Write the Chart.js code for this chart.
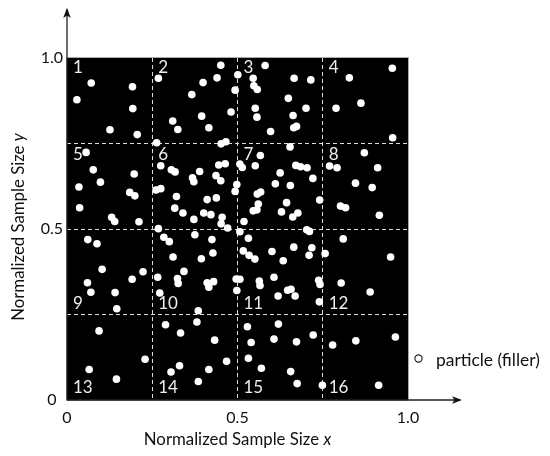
<!DOCTYPE html>
<html>
<head>
<meta charset="utf-8">
<style>html,body{margin:0;padding:0;background:#fff}canvas{display:block}</style>
<script src="https://cdn.jsdelivr.net/npm/chart.js@4"></script>
</head>
<body>
<canvas id="c" width="550" height="456"></canvas>
<script>
const particleX = [.071,.192,.029,.193,.126,.206,.268,.451,.440,.501,.399,.366,.493,.481,.395,.310,.325,.416,.263,.452,.466,.056,.077,.098,.035,.037,.197,.184,.199,.131,.140,.211,.275,.306,.317,.389,.368,.372,.445,.464,.437,.451,.498,.493,.261,.275,.321,.411,.438,.316,.340,.401,.422,.455,.452,.372,.471,.268,
.581,.546,.666,.715,.548,.558,.649,.552,.701,.557,.663,.597,.665,.673,.828,.954,.862,.789,.955,.654,.567,.507,.514,.552,.671,.685,.704,.625,.721,.611,.655,.558,.568,.644,.561,.546,.557,.629,.662,.677,.741,.519,.770,.792,.872,.911,.846,.895,.802,.817,.916,
.061,.088,.284,.300,.375,.425,.311,.394,.428,.103,.223,.191,.343,.266,.324,.326,.060,.070,.141,.411,.430,.416,.496,.498,.272,.146,.385,.381,.289,.094,.333,.433,.229,.468,.065,.330,.305,.416,.145,.385,
.507,.703,.711,.532,.810,.517,.534,.551,.601,.665,.718,.710,.757,.634,.949,.607,.507,.564,.566,.738,.742,.804,.647,.657,.889,.619,.669,.740,.529,.620,.722,.607,.540,.673,.779,.847,.963,.532,.570,.656,.675,.749,.914];
const particleY = [.927,.916,.878,.852,.790,.776,.941,.979,.942,.951,.928,.893,.906,.842,.830,.816,.791,.796,.752,.749,.755,.724,.673,.637,.623,.562,.661,.607,.597,.534,.522,.521,.685,.673,.667,.668,.650,.638,.687,.691,.656,.641,.630,.610,.614,.618,.595,.586,.591,.561,.547,.547,.542,.534,.515,.528,.503,.501,
.978,.941,.941,.936,.919,.908,.882,.853,.853,.827,.832,.785,.796,.800,.942,.970,.868,.853,.767,.740,.715,.690,.680,.685,.686,.682,.679,.664,.648,.632,.627,.602,.608,.577,.573,.553,.556,.550,.535,.547,.585,.522,.684,.679,.723,.679,.634,.621,.567,.562,.540,
.469,.457,.476,.463,.483,.469,.418,.413,.430,.382,.375,.353,.376,.359,.355,.341,.343,.315,.314,.343,.346,.330,.354,.320,.313,.267,.261,.228,.220,.202,.196,.175,.119,.113,.089,.100,.082,.089,.061,.054,
.492,.498,.493,.473,.471,.436,.423,.412,.434,.447,.445,.423,.428,.407,.418,.359,.353,.348,.335,.350,.338,.342,.321,.324,.316,.304,.304,.287,.214,.222,.190,.178,.168,.170,.161,.173,.184,.122,.093,.083,.048,.043,.043];
const tickLabels = {0:'0', 0.5:'0.5', 1:'1.0'};
const gridValues = [0.25, 0.5, 0.75];
const cellLabels = ['1','2','3','4','5','6','7','8','9','10','11','12','13','14','15','16'];
const axisTitle = 'Normalized Sample Size ';
const legendLabel = 'particle (filler)';
const FONT = 'Lato, sans-serif';

function mixedTitle(ctx, text, italic, size){
  ctx.font = size+'px '+FONT;
  const a = ctx.measureText(text).width;
  ctx.font = 'italic '+size+'px '+FONT;
  const b = ctx.measureText(italic).width;
  const s = -(a+b)/2;
  ctx.font = size+'px '+FONT;
  ctx.textAlign='left';ctx.textBaseline='middle';ctx.fillStyle='#111';
  ctx.fillText(text,s,0);
  ctx.font = 'italic '+size+'px '+FONT;
  ctx.fillText(italic,s+a,0);
}
function arrow(ctx,x,y,ang){
  ctx.save();ctx.translate(x,y);ctx.rotate(ang);
  ctx.beginPath();ctx.moveTo(0,0);ctx.lineTo(-10,-3.8);ctx.lineTo(-7.5,0);ctx.lineTo(-10,3.8);ctx.closePath();
  ctx.fillStyle='#111';ctx.fill();ctx.restore();
}
const decor = {
  id:'decor',
  beforeDraw(chart){
    const {ctx,chartArea:a}=chart;
    ctx.save();ctx.fillStyle='#000';
    ctx.fillRect(a.left,a.top,a.width,a.height);
    ctx.strokeStyle='#aaa';ctx.lineWidth=1;
    ctx.strokeRect(a.left-.5,a.top-.5,a.width+1,a.height+1);
    ctx.restore();
  },
  afterDraw(chart){
    const {ctx,chartArea:a,scales:{x,y}}=chart;
    ctx.save();
    ctx.strokeStyle='#222';ctx.lineWidth=1.3;
    ctx.beginPath();
    ctx.moveTo(a.left,a.bottom);ctx.lineTo(a.left,9);
    ctx.moveTo(a.left,a.bottom);ctx.lineTo(460,a.bottom);
    ctx.stroke();
    arrow(ctx,a.left,8,-Math.PI/2);
    arrow(ctx,462,a.bottom,0);
    // cell numbers
    ctx.font='17px '+FONT;ctx.fillStyle='#eee';ctx.textAlign='left';ctx.textBaseline='middle';
    const cols=[0,.25,.5,.75];
    const rowPy=[y.getPixelForValue(1)+10,y.getPixelForValue(.75)+11,y.getPixelForValue(.25)-11,y.getPixelForValue(0)-12];
    cellLabels.forEach((t,i)=>{
      const c=i%4,r=Math.floor(i/4);
      ctx.fillText(t,x.getPixelForValue(cols[c])+6,rowPy[r]);
    });
    // axis titles
    ctx.save();ctx.translate((a.left+a.right)/2,440);mixedTitle(ctx,axisTitle,'x',16.8);ctx.restore();
    ctx.save();ctx.translate(19,(a.top+a.bottom)/2-2);ctx.rotate(-Math.PI/2);mixedTitle(ctx,axisTitle,'y',16.8);ctx.restore();
    // legend
    ctx.beginPath();ctx.arc(418.5,358.5,3.6,0,Math.PI*2);ctx.fillStyle='#fff';ctx.fill();ctx.strokeStyle='#222';ctx.lineWidth=1.2;ctx.stroke();
    ctx.font='17.4px '+FONT;ctx.fillStyle='#111';ctx.textAlign='left';ctx.textBaseline='middle';
    ctx.fillText(legendLabel,436,360);
    ctx.restore();
  }
};
const gridStyle = {
  color:c=>gridValues.includes(c.tick.value)?'#dcdcdc':'rgba(0,0,0,0)',
  lineWidth:1, drawTicks:false
};
const axisBase = {
  type:'linear',min:0,max:1,
  border:{display:false,dash:[4,3]},
  grid:gridStyle,
};
new Chart(document.getElementById('c'),{
  type:'scatter',
  data:{datasets:[{
    label:legendLabel,
    data:particleX.map((v,i)=>({x:v,y:particleY[i]})),
    pointRadius:3.8,pointBackgroundColor:'#fff',pointBorderWidth:0,pointHoverRadius:3.8
  }]},
  plugins:[decor],
  options:{
    responsive:false,animation:false,
    layout:{padding:{left:0,top:58,right:142,bottom:0}},
    plugins:{legend:{display:false},tooltip:{enabled:false}},
    scales:{
      x:{...axisBase,
        afterFit(s){s.height=56},
        ticks:{stepSize:.25,autoSkip:false,maxRotation:0,padding:8,color:'#111',font:{family:FONT,size:16},
          callback:v=>tickLabels[v]??''}},
      y:{...axisBase,
        afterFit(s){s.width=67},
        ticks:{stepSize:.25,autoSkip:false,padding:4,color:'#111',font:{family:FONT,size:16},crossAlign:'center',
          callback:v=>tickLabels[v]??''}}
    }
  }
});
</script>
</body>
</html>
